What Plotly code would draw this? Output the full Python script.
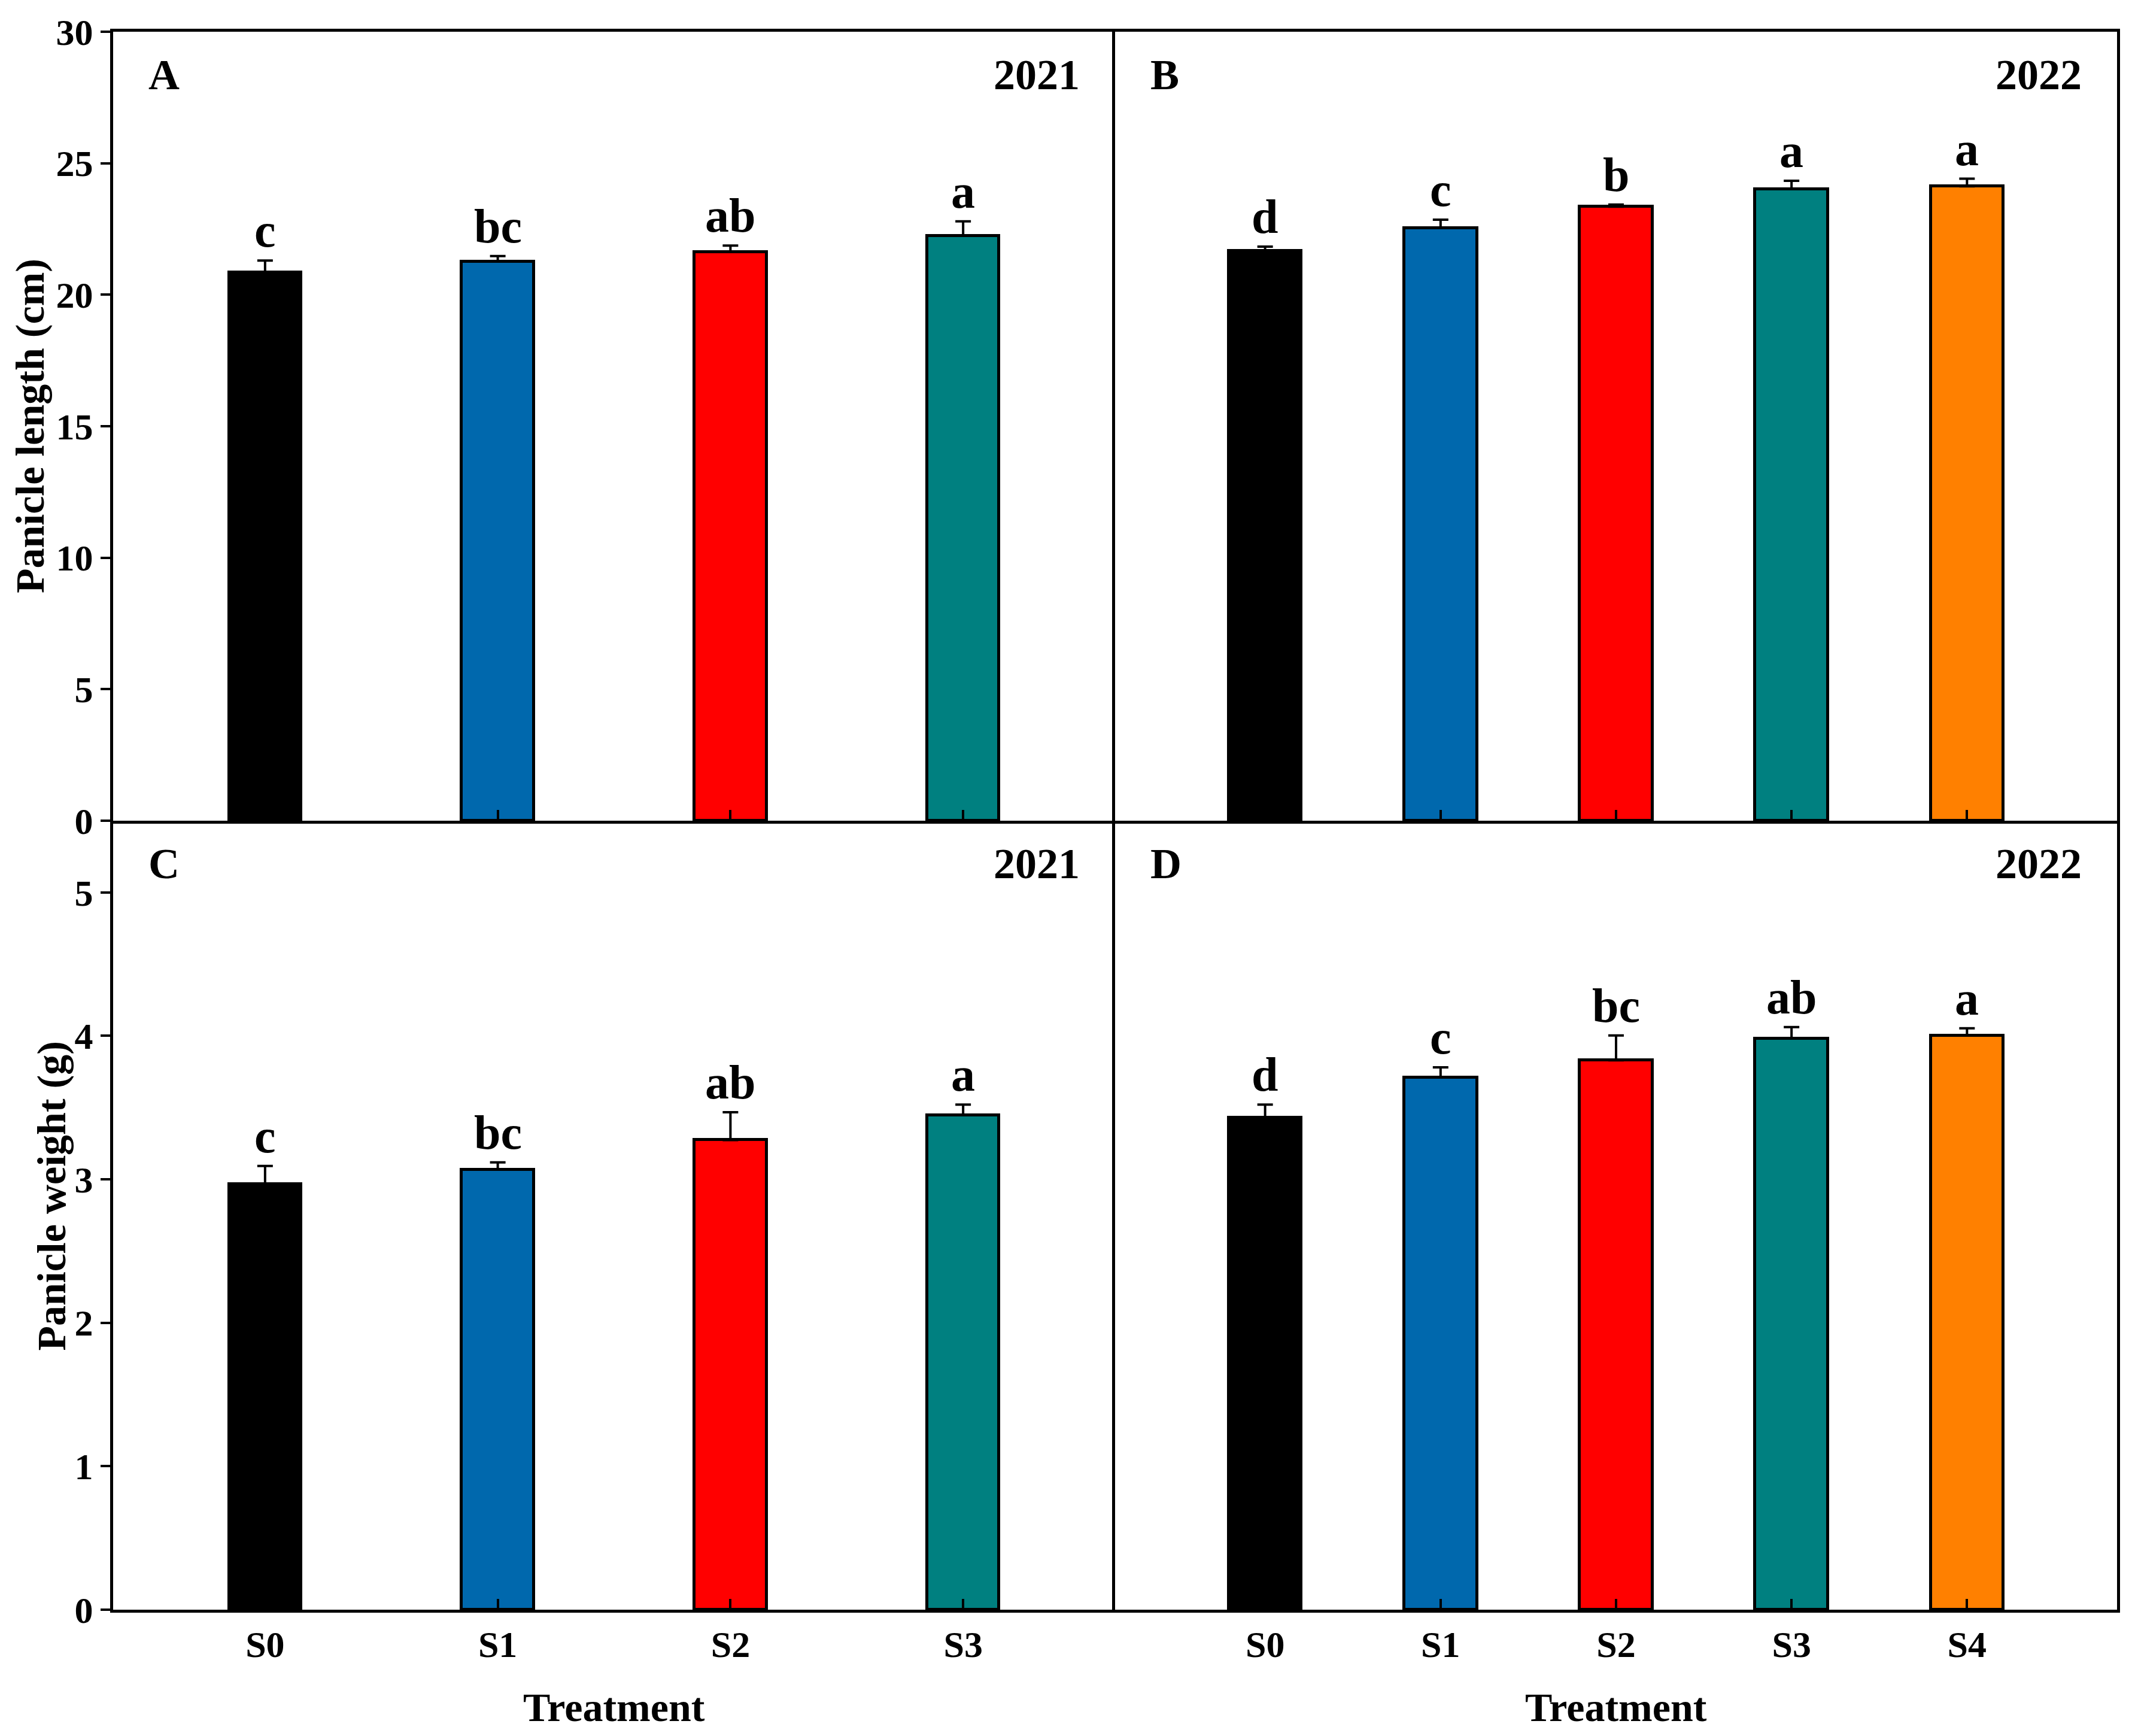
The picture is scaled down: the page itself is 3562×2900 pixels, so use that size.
import plotly.graph_objects as go
from plotly.subplots import make_subplots

# ---------------- data ----------------
cats_2021 = ["S0", "S1", "S2", "S3"]
cats_2022 = ["S0", "S1", "S2", "S3", "S4"]
colors_2021 = ["#000000", "#0068AD", "#FF0000", "#008080"]
colors_2022 = ["#000000", "#0068AD", "#FF0000", "#008080", "#FF8000"]

len_2021 = [20.84, 21.27, 21.63, 22.24]
len_2021_err = [0.46, 0.20, 0.24, 0.55]
len_2021_sig = ["c", "bc", "ab", "a"]

len_2022 = [21.67, 22.54, 23.35, 24.02, 24.12]
len_2022_err = [0.16, 0.31, 0.08, 0.31, 0.29]
len_2022_sig = ["d", "c", "b", "a", "a"]

wt_2021 = [2.965, 3.068, 3.274, 3.447]
wt_2021_err = [0.128, 0.050, 0.194, 0.074]
wt_2021_sig = ["c", "bc", "ab", "a"]

wt_2022 = [3.431, 3.711, 3.830, 3.983, 4.003]
wt_2022_err = [0.090, 0.070, 0.173, 0.078, 0.050]
wt_2022_sig = ["d", "c", "bc", "ab", "a"]

len_ticks = [0, 5, 10, 15, 20, 25, 30]
wt_ticks = [0, 1, 2, 3, 4, 5]

# ---------------- style ----------------
FONT = "Liberation Serif"
LW = 5

fig = make_subplots(rows=2, cols=2, horizontal_spacing=0, vertical_spacing=0)

panels = [
    (1, 1, cats_2021, len_2021, len_2021_err, len_2021_sig, colors_2021, 0.31, "A", "2021"),
    (1, 2, cats_2022, len_2022, len_2022_err, len_2022_sig, colors_2022, 0.415, "B", "2022"),
    (2, 1, cats_2021, wt_2021, wt_2021_err, wt_2021_sig, colors_2021, 0.31, "C", "2021"),
    (2, 2, cats_2022, wt_2022, wt_2022_err, wt_2022_sig, colors_2022, 0.415, "D", "2022"),
]

annotations = []
for i, (r, c, cats, vals, errs, sig, cols, bw, lab, year) in enumerate(panels):
    fig.add_trace(
        go.Bar(
            x=cats, y=vals, width=bw,
            marker=dict(color=cols, line=dict(color="black", width=5)),
            error_y=dict(type="data", array=errs, arrayminus=[0] * len(errs),
                         symmetric=False, color="black", thickness=4, width=13),
            showlegend=False,
        ),
        row=r, col=c,
    )
    ax = "" if i == 0 else str(i + 1)
    for cat, v, e, s in zip(cats, vals, errs, sig):
        annotations.append(dict(
            x=cat, y=v + e, xref="x" + ax, yref="y" + ax, text=s,
            showarrow=False, yanchor="bottom", xanchor="center", yshift=4,
            font=dict(family=FONT, size=80, color="black", weight="bold"),
        ))
    annotations.append(dict(
        x=0.034, y=0.945, xref="x" + ax + " domain", yref="y" + ax + " domain",
        text=lab, showarrow=False, xanchor="left", yanchor="middle",
        font=dict(family=FONT, size=72, color="black", weight="bold"),
    ))
    annotations.append(dict(
        x=0.966, y=0.945, xref="x" + ax + " domain", yref="y" + ax + " domain",
        text=year, showarrow=False, xanchor="right", yanchor="middle",
        font=dict(family=FONT, size=72, color="black", weight="bold"),
    ))

# axis titles
title_font = dict(family=FONT, size=68, color="black", weight="bold")
annotations += [
    dict(x=-0.0415, y=0.75, xref="paper", yref="paper", text="Panicle length (cm)",
         textangle=-90, showarrow=False, xanchor="center", yanchor="middle", font=title_font),
    dict(x=-0.0307, y=0.262, xref="paper", yref="paper", text="Panicle weight (g)",
         textangle=-90, showarrow=False, xanchor="center", yanchor="middle", font=title_font),
    dict(x=0.25, y=-0.0618, xref="paper", yref="paper", text="Treatment",
         showarrow=False, xanchor="center", yanchor="middle", font=title_font),
    dict(x=0.75, y=-0.0618, xref="paper", yref="paper", text="Treatment",
         showarrow=False, xanchor="center", yanchor="middle", font=title_font),
]

tick_font = dict(family=FONT, size=62, color="black", weight="bold")
common = dict(showline=True, linecolor="black", linewidth=LW,
              showgrid=False, zeroline=False, tickfont=tick_font)

for r in (1, 2):
    for c in (1, 2):
        cats = cats_2021 if c == 1 else cats_2022
        rng = [-0.653, 3.653] if c == 1 else [-0.855, 4.855]
        fig.update_xaxes(
            type="category", categoryorder="array", categoryarray=cats,
            range=rng, ticks="inside", ticklen=18, tickwidth=4, tickcolor="black",
            showticklabels=(r == 2), ticklabelstandoff=0,
            mirror=(r == 1), **common, row=r, col=c,
        )
        yr = [0, 30] if r == 1 else [0, 5.5]
        yt = len_ticks if r == 1 else wt_ticks
        if c == 1:
            fig.update_yaxes(range=yr, tickvals=yt, ticks="outside", ticklen=16,
                             tickwidth=4, tickcolor="black", mirror=False,
                             **common, row=r, col=c)
        else:
            fig.update_yaxes(range=yr, tickvals=yt, ticks="", showticklabels=False,
                             mirror=True, **common, row=r, col=c)

# page body adds an 8px margin; compensate so the plot area lands where intended
fig.update_layout(
    width=3546, height=2884,
    margin=dict(l=181, r=13, t=37, b=203),
    plot_bgcolor="white", paper_bgcolor="white",
    annotations=annotations,
    bargap=0,
)

fig.write_html("out.html")
